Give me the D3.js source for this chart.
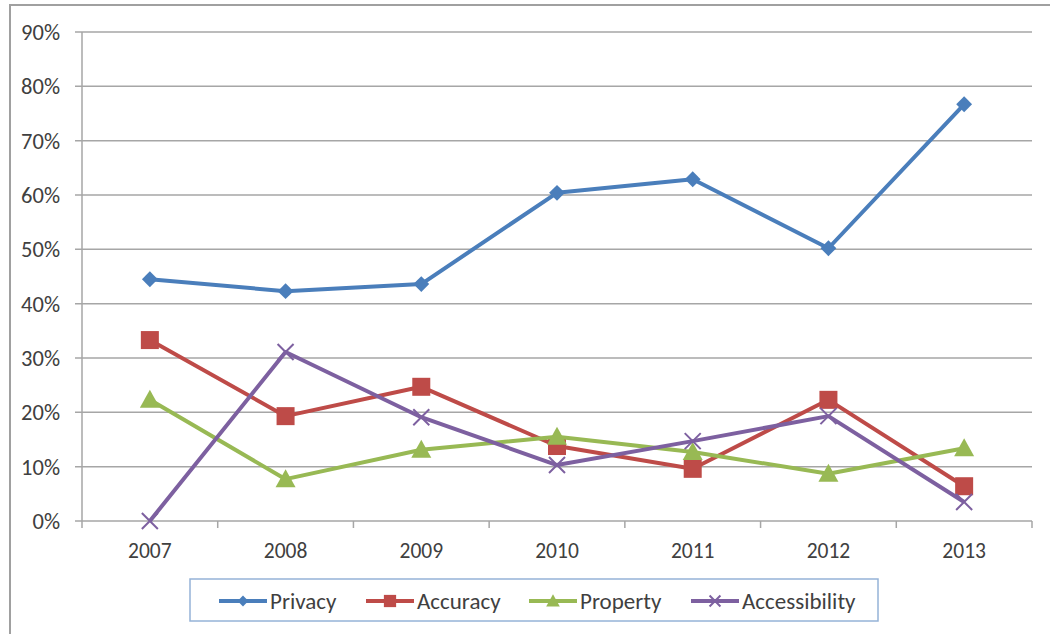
<!DOCTYPE html>
<html>
<head>
<meta charset="utf-8">
<script src="https://cdn.jsdelivr.net/npm/d3@7"></script>
<style>
  html, body { margin: 0; padding: 0; background: #fff; }
  svg { display: block; }
</style>
</head>
<body>
<svg id="chart" width="1050" height="634"></svg>
<script>
const years = ['2007', '2008', '2009', '2010', '2011', '2012', '2013'];
const privacy = [44.5, 42.3, 43.6, 60.4, 62.9, 50.2, 76.7];
const accuracy = [33.3, 19.3, 24.7, 13.8, 9.6, 22.3, 6.4];
const property = [22.3, 7.7, 13.1, 15.5, 12.7, 8.7, 13.4];
const accessibility = [0, 31.1, 19.1, 10.3, 14.7, 19.3, 3.5];
const yTicks = [0, 10, 20, 30, 40, 50, 60, 70, 80, 90];

const seriesList = [
    { name: 'Privacy', values: privacy, color: '#4a7ebb', marker: 'diamond' },
    { name: 'Accuracy', values: accuracy, color: '#be4b48', marker: 'square' },
    { name: 'Property', values: property, color: '#98b954', marker: 'triangle' },
    { name: 'Accessibility', values: accessibility, color: '#7d60a0', marker: 'cross' }
];

const svg = d3.select('#chart');
const fontFamily = 'Carlito, Calibri, "Open Sans", sans-serif';
const textColor = '#404040';
const gridColor = '#a6a6a6';

const plot = { left: 82, right: 1032, top: 32, bottom: 521 };

// outer frame (only left and top edges are visible in the crop)
svg.append('path')
    .attr('d', 'M10,634 L10,5 L1050,5')
    .attr('fill', 'none')
    .attr('stroke', '#a0a0a0')
    .attr('stroke-width', 2);

const x = d3.scaleBand().domain(years).range([plot.left, plot.right]);
const y = d3.scaleLinear().domain([0, 90]).range([plot.bottom, plot.top]);

// gridlines + y labels
const yAxis = svg.append('g');
yAxis.selectAll('line.grid')
    .data(yTicks)
    .join('line')
    .attr('class', 'grid')
    .attr('x1', plot.left - 7)
    .attr('x2', plot.right)
    .attr('y1', d => y(d))
    .attr('y2', d => y(d))
    .attr('stroke', gridColor)
    .attr('stroke-width', 1.5);

yAxis.selectAll('text')
    .data(yTicks)
    .join('text')
    .attr('x', plot.left - 22)
    .attr('y', d => y(d))
    .attr('dy', '0.35em')
    .attr('text-anchor', 'end')
    .style('font-family', fontFamily)
    .style('font-size', '22.5px')
    .style('fill', textColor)
    .text(d => d + '%');

// y axis line
svg.append('line')
    .attr('x1', plot.left).attr('x2', plot.left)
    .attr('y1', plot.top).attr('y2', plot.bottom)
    .attr('stroke', gridColor)
    .attr('stroke-width', 1.5);

// x axis ticks between categories
const tickPos = years.map(d => x(d)).concat([plot.right]);
svg.append('g').selectAll('line')
    .data(tickPos)
    .join('line')
    .attr('x1', d => d).attr('x2', d => d)
    .attr('y1', plot.bottom).attr('y2', plot.bottom + 7)
    .attr('stroke', gridColor)
    .attr('stroke-width', 1.5);

svg.append('g').selectAll('text')
    .data(years)
    .join('text')
    .attr('x', d => x(d) + x.bandwidth() / 2)
    .attr('y', plot.bottom + 37)
    .attr('text-anchor', 'middle')
    .style('font-family', fontFamily)
    .style('font-size', '21.5px')
    .style('fill', textColor)
    .text(d => d);

function drawMarker(g, type, color, cx, cy, k = 1) {
    if (type === 'diamond') {
        g.append('path')
            .attr('d', d3.symbol(d3.symbolDiamond2, 160 * k * k)())
            .attr('transform', `translate(${cx},${cy})`)
            .attr('fill', color);
    } else if (type === 'square') {
        const h = 9 * k;
        g.append('rect')
            .attr('x', cx - h).attr('y', cy - h)
            .attr('width', 2 * h).attr('height', 2 * h)
            .attr('fill', color);
    } else if (type === 'triangle') {
        g.append('path')
            .attr('d', `M${cx},${cy - 10 * k} L${cx + 10 * k},${cy + 8 * k} L${cx - 10 * k},${cy + 8 * k} Z`)
            .attr('fill', color);
    } else {
        const h = 8 * k;
        g.append('path')
            .attr('d', `M${cx - h},${cy - h} L${cx + h},${cy + h} M${cx - h},${cy + h} L${cx + h},${cy - h}`)
            .attr('stroke', color)
            .attr('stroke-width', 2)
            .attr('fill', 'none');
    }
}

const line = d3.line()
    .x((d, i) => x(years[i]) + x.bandwidth() / 2)
    .y(d => y(d));

seriesList.forEach(s => {
    const g = svg.append('g');
    g.append('path')
        .attr('d', line(s.values))
        .attr('fill', 'none')
        .attr('stroke', s.color)
        .attr('stroke-width', 4)
        .attr('stroke-linejoin', 'round');
    s.values.forEach((v, i) => {
        drawMarker(g, s.marker, s.color, x(years[i]) + x.bandwidth() / 2, y(v));
    });
});

// legend
const legend = svg.append('g');
legend.append('rect')
    .attr('x', 190).attr('y', 579)
    .attr('width', 688).attr('height', 42)
    .attr('fill', '#fff')
    .attr('stroke', '#95b3d7')
    .attr('stroke-width', 1.5);

const legendX = [219, 366, 529, 691];
seriesList.forEach((s, i) => {
    const lx = legendX[i];
    const ly = 601;
    legend.append('line')
        .attr('x1', lx).attr('x2', lx + 48)
        .attr('y1', ly).attr('y2', ly)
        .attr('stroke', s.color)
        .attr('stroke-width', 4);
    drawMarker(legend, s.marker, s.color, lx + 24, ly, 0.68);
    legend.append('text')
        .attr('x', lx + 51)
        .attr('y', ly)
        .attr('dy', '0.35em')
        .style('font-family', fontFamily)
        .style('font-size', '23px')
        .style('fill', textColor)
        .text(s.name);
});
</script>
</body>
</html>
